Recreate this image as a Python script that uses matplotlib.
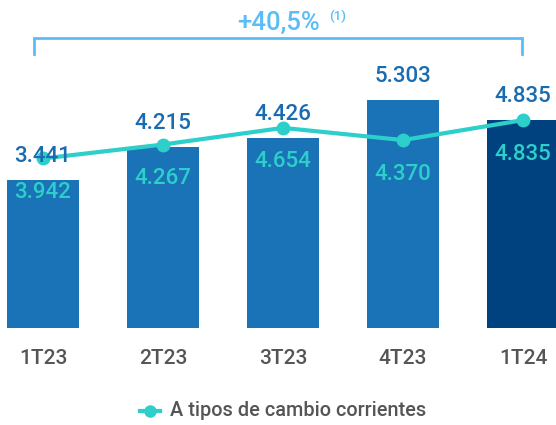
import matplotlib
matplotlib.use("Agg")
import matplotlib.pyplot as plt
from matplotlib.transforms import offset_copy
from matplotlib.lines import Line2D

categories = ["1T23", "2T23", "3T23", "4T23", "1T24"]
bar_values = [3.441, 4.215, 4.426, 5.303, 4.835]
line_values = [3.942, 4.267, 4.654, 4.370, 4.835]
bar_labels = ["3.441", "4.215", "4.426", "5.303", "4.835"]
line_labels = ["3.942", "4.267", "4.654", "4.370", "4.835"]
legend_label = "A tipos de cambio corrientes"
growth_text = "+40,5%"
note_text = "(1)"

plt.rcParams['font.family'] = ['Roboto', 'DejaVu Sans']

bar_color = "#1a72b7"
last_color = "#00427f"
line_color = "#2ccfc9"
label_blue = "#1b6bb0"
light_blue = "#5bbdf6"
gray = "#555555"

W, H = 556, 425
fig = plt.figure(figsize=(W / 100, H / 100), dpi=100)
ax = fig.add_axes([0, 0, 1, 1])
ax.set_xlim(-43 / 120, (W - 43) / 120)
ax.set_ylim(-(H - 328) / 43, 328 / 43)
ax.axis("off")

x = list(range(len(categories)))
colors = [bar_color] * (len(categories) - 1) + [last_color]
ax.bar(x, bar_values, width=0.6, color=colors, zorder=1)
ax.plot(x, line_values, color=line_color, lw=3, marker="o", markersize=9, zorder=2)

for xi, v, lab in zip(x, bar_values, bar_labels):
    tr = offset_copy(ax.transData, fig=fig, x=0, y=13, units="dots")
    ax.text(xi, v, lab, transform=tr, ha="center", va="bottom", fontsize=16,
            color=label_blue, fontweight="medium", zorder=3)

for xi, v, lab in zip(x, line_values, line_labels):
    tr = offset_copy(ax.transData, fig=fig, x=0, y=-34, units="dots")
    ax.text(xi, v, lab, transform=tr, ha="center", va="center", fontsize=16,
            color=line_color, fontweight="medium", zorder=3)

for xi, c in zip(x, categories):
    ax.text(xi, -(358 - 328) / 43, c, ha="center", va="center", fontsize=15,
            color=gray, fontweight="medium")

# bracket
fx = fig.transFigure
def px(xp, yp):
    return xp / W, 1 - yp / H
bx = [px(34, 54), px(34, 38), px(522, 38), px(522, 54)]
fig.add_artist(Line2D([p[0] for p in bx], [p[1] for p in bx], color=light_blue, lw=2,
                      transform=fx, solid_joinstyle="miter"))
fig.text(*px(278, 23), growth_text, ha="center", va="center", fontsize=18.5,
         color=light_blue, fontweight="medium")
fig.text(*px(338, 16), note_text, ha="center", va="center", fontsize=9.5,
         color=light_blue, fontweight="medium")

# legend
lx = [150 / W - 0.018, 150 / W + 0.018]
fig.add_artist(Line2D(lx, [1 - 411 / H] * 2, color=line_color, lw=3, transform=fx))
fig.add_artist(Line2D([150 / W], [1 - 411 / H], color=line_color, marker="o",
                      markersize=8, transform=fx))
fig.text(170 / W, 1 - 411 / H, legend_label, ha="left", va="center", fontsize=14.3,
         color=gray, fontweight="medium")

fig.savefig("out.png", dpi=100)
